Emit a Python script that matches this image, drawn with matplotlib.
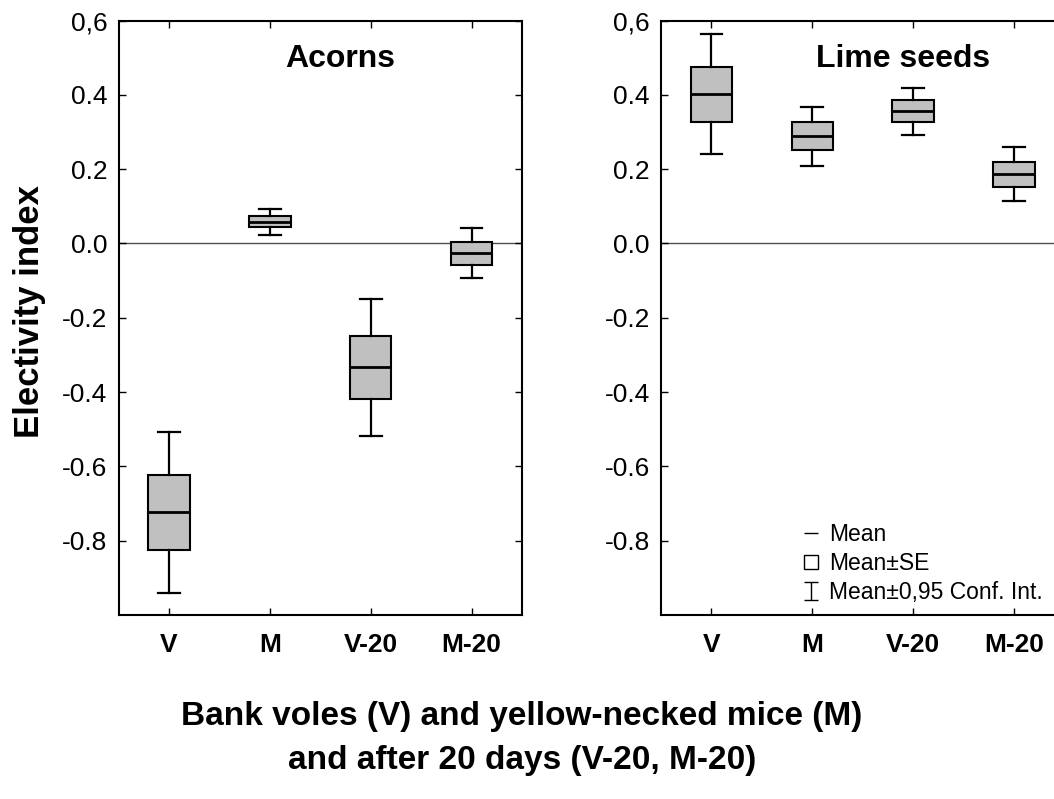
import matplotlib
matplotlib.use("Agg")
import matplotlib.pyplot as plt
from matplotlib.lines import Line2D
from matplotlib.path import Path

plt.rcParams['font.family'] = ['Liberation Sans', 'DejaVu Sans']

# ---- data ----
groups = ["V", "M", "V-20", "M-20"]

acorn_mean = [-0.723, 0.059, -0.332, -0.025]
acorn_se_lo = [-0.826, 0.043, -0.418, -0.058]
acorn_se_hi = [-0.624, 0.075, -0.248, 0.004]
acorn_ci_lo = [-0.942, 0.023, -0.518, -0.093]
acorn_ci_hi = [-0.508, 0.093, -0.149, 0.041]

lime_mean = [0.401, 0.289, 0.357, 0.188]
lime_se_lo = [0.327, 0.251, 0.327, 0.152]
lime_se_hi = [0.476, 0.326, 0.386, 0.220]
lime_ci_lo = [0.240, 0.209, 0.293, 0.115]
lime_ci_hi = [0.563, 0.367, 0.419, 0.259]

ytick_vals = [0.6, 0.4, 0.2, 0.0, -0.2, -0.4, -0.6, -0.8]
ytick_labels = ["0,6", "0.4", "0.2", "0.0", "-0.2", "-0.4", "-0.6", "-0.8"]

panel_titles = ["Acorns", "Lime seeds"]
ylabel = "Electivity index"
xlabel_lines = ["Bank voles (V) and yellow-necked mice (M)",
                "and after 20 days (V-20, M-20)"]
legend_labels = ["Mean", "Mean\u00b1SE", "Mean\u00b10,95 Conf. Int."]

W, H = 1054, 799
fig = plt.figure(figsize=(W / 100, H / 100), dpi=100)

ax_w = 403.3 / W
ax_h = 594.5 / H
ax_b = (H - 615) / H
ax1 = fig.add_axes([118.7 / W, ax_b, ax_w, ax_h])
ax2 = fig.add_axes([661 / W, ax_b, ax_w, ax_h])

box_color = "#c0c0c0"


def draw_panel(ax, mean, se_lo, se_hi, ci_lo, ci_hi):
    stats = []
    for i, g in enumerate(groups):
        stats.append(dict(med=mean[i], q1=se_lo[i], q3=se_hi[i],
                          whislo=ci_lo[i], whishi=ci_hi[i], fliers=[], label=g))
    ax.axhline(0, color="#505050", lw=1.0, zorder=1)
    ax.bxp(stats, positions=range(len(groups)), widths=0.41, capwidths=0.215,
           patch_artist=True, showfliers=False, manage_ticks=False,
           boxprops=dict(facecolor=box_color, edgecolor="black", linewidth=1.5),
           medianprops=dict(color="black", linewidth=2.0),
           whiskerprops=dict(color="black", linewidth=1.6),
           capprops=dict(color="black", linewidth=1.6), zorder=3)
    ax.set_xlim(-0.5, len(groups) - 0.5)
    ax.set_ylim(-1.0, 0.6)
    ax.set_xticks(range(len(groups)))
    ax.set_xticklabels(groups, fontsize=19, fontweight="bold")
    ax.set_yticks(ytick_vals)
    ax.set_yticklabels(ytick_labels, fontsize=19)
    ax.tick_params(direction="in", top=True, right=True, length=5, width=1.0)
    ax.tick_params(axis="y", pad=8)
    ax.tick_params(axis="x", pad=13)
    for s in ax.spines.values():
        s.set_linewidth(1.5)


draw_panel(ax1, acorn_mean, acorn_se_lo, acorn_se_hi, acorn_ci_lo, acorn_ci_hi)
draw_panel(ax2, lime_mean, lime_se_lo, lime_se_hi, lime_ci_lo, lime_ci_hi)

ax1.text(0.549, 0.936, panel_titles[0], transform=ax1.transAxes,
         ha="center", va="center", fontsize=23, fontweight="bold")
ax2.text(0.600, 0.936, panel_titles[1], transform=ax2.transAxes,
         ha="center", va="center", fontsize=23, fontweight="bold")

ax1.set_ylabel(ylabel, fontsize=25, fontweight="bold")
ax1.yaxis.set_label_coords(-0.18, 0.511)

# legend with custom handles
ibeam = Path([(-0.8, 1), (0.8, 1), (0, 1), (0, -1), (-0.8, -1), (0.8, -1)],
             [Path.MOVETO, Path.LINETO, Path.MOVETO, Path.LINETO,
              Path.MOVETO, Path.LINETO])
h_mean = Line2D([], [], color="black", marker="_", linestyle="None",
                markersize=10, markeredgewidth=1.0)
h_se = Line2D([], [], color="black", marker="s", linestyle="None",
              markersize=10, markerfacecolor="white", markeredgewidth=1.0)
h_ci = Line2D([], [], color="black", marker=ibeam, linestyle="None",
              markersize=12.5, markeredgewidth=1.0, fillstyle="none")
ax2.legend([h_mean, h_se, h_ci], legend_labels, loc="lower left",
           bbox_to_anchor=(0.3027, -0.0118), frameon=False, fontsize=16.5,
           handlelength=0.8, handletextpad=0.4, labelspacing=0.25,
           borderpad=0.3)

fig.text(522 / W, (H - 717) / H, xlabel_lines[0], ha="center", va="center",
         fontsize=24, fontweight="bold")
fig.text(522 / W, (H - 760) / H, xlabel_lines[1], ha="center", va="center",
         fontsize=24, fontweight="bold")

fig.savefig("out.png", dpi=100)
